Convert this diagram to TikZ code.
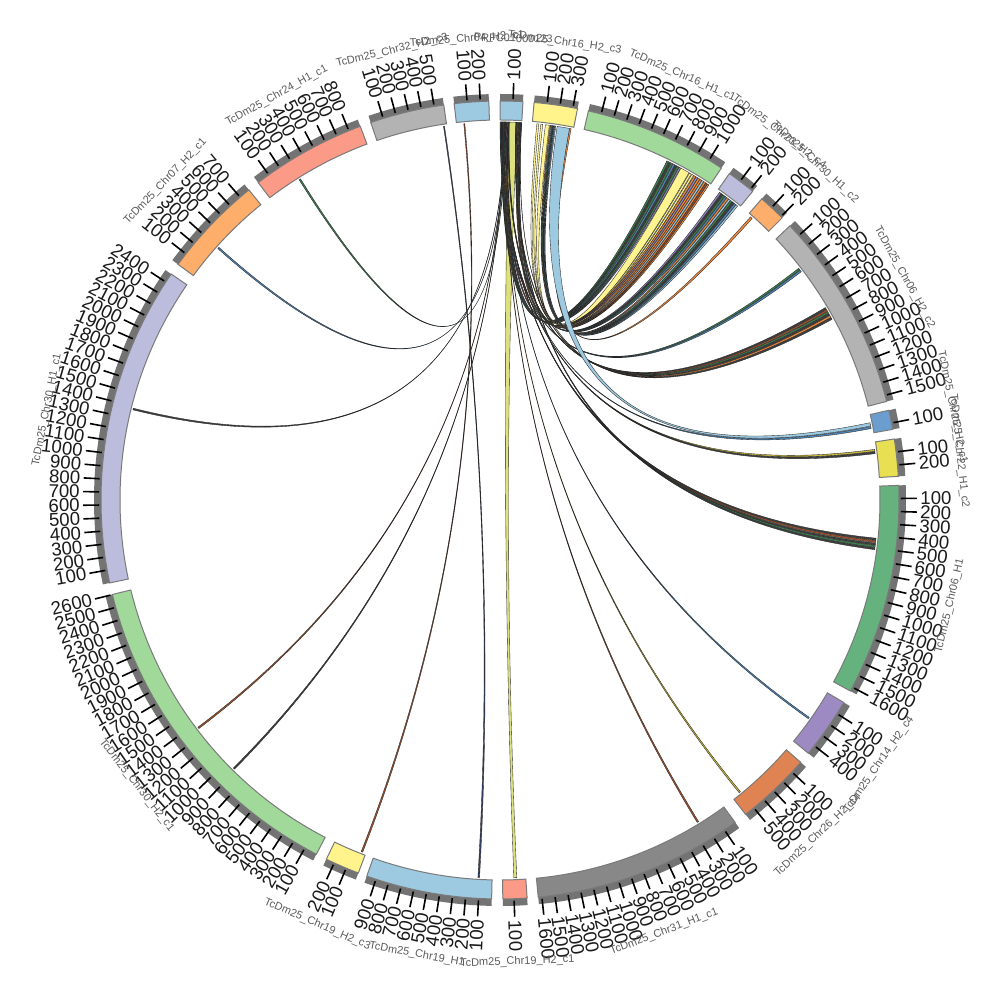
\documentclass[tikz,border=0pt]{standalone}
\usepackage{fontspec}
\setmainfont{Liberation Sans}
\definecolor{cA}{HTML}{9ECAE1}
\definecolor{cB}{HTML}{FFF38C}
\definecolor{cC}{HTML}{A1D99B}
\definecolor{cD}{HTML}{BCBDDC}
\definecolor{cE}{HTML}{FDAE6B}
\definecolor{cF}{HTML}{B3B3B3}
\definecolor{cG}{HTML}{6B9ECE}
\definecolor{cH}{HTML}{E9DF52}
\definecolor{cI}{HTML}{66B27E}
\definecolor{cJ}{HTML}{9D8AC3}
\definecolor{cK}{HTML}{E08352}
\definecolor{cL}{HTML}{888888}
\definecolor{cM}{HTML}{FB9A86}
\definecolor{ringgray}{HTML}{737373}
\definecolor{bandedge}{HTML}{7A7A7A}
\definecolor{numcol}{HTML}{1A1A1A}
\definecolor{namecol}{HTML}{5A5A5A}
\definecolor{lkG}{HTML}{3D7F4F}
\definecolor{lkK}{HTML}{404040}
\definecolor{lkS}{HTML}{4F86B8}
\definecolor{lkP}{HTML}{8E86BF}
\definecolor{lkO}{HTML}{F08A3C}
\definecolor{lkB}{HTML}{9ECAE1}
\definecolor{lkR}{HTML}{A0522D}
\definecolor{lkY}{HTML}{FFF48F}
\definecolor{lkE}{HTML}{C8B83C}
\definecolor{lkW}{HTML}{DDE07E}
\definecolor{lkN}{HTML}{34426A}
% ribbon link: source interval #1-#2, target interval #3-#4 (compass degrees), fill #5
\newcommand\rib[5]{%
  \filldraw[ribst, fill=#5] (90-#1:378) .. controls (90-#1:126) and (90-#4:126) .. (90-#4:378)
    arc[start angle=90-#4, end angle=90-#3, radius=378]
    .. controls (90-#3:126) and (90-#2:126) .. (90-#2:378)
    arc[start angle=90-#2, end angle=90-#1, radius=378] -- cycle;}
\begin{document}
\begin{tikzpicture}[x=0.5pt,y=0.5pt,
  band/.style={draw=bandedge, line width=0.5pt},
  tickst/.style={draw=black, line width=0.8pt},
  numlbl/.style={font=\fontsize{9.3}{9.3}\selectfont, text=numcol, inner sep=0pt},
  namelbl/.style={font=\fontsize{5.5}{5.5}\selectfont, text=namecol, inner sep=0pt},
  ribst/.style={draw=black!85, line width=0.18pt}]
\useasboundingbox (-500,-500) rectangle (500,500);
% ---------------- links ----------------
\rib{1.3}{2.6}{177.45}{177.9}{lkW}
% to Chr16_H1_c1
\rib{0.10}{0.22}{26.2}{26.5}{lkG}
\rib{0.22}{0.34}{26.55}{26.85}{lkK}
\rib{0.34}{0.46}{26.9}{27.2}{lkG}
\rib{0.46}{0.58}{27.25}{27.55}{lkS}
\rib{0.58}{0.70}{27.6}{27.9}{lkK}
\rib{0.70}{0.82}{27.95}{28.25}{lkG}
\rib{0.82}{0.94}{28.3}{28.55}{lkP}
\rib{6.9}{7.5}{28.6}{30.0}{lkY}
\rib{5.6}{5.9}{30.1}{30.4}{lkY}
\rib{6.2}{6.5}{30.5}{30.8}{lkY}
\rib{0.94}{1.04}{30.9}{31.2}{lkO}
\rib{1.04}{1.14}{31.25}{31.55}{lkP}
\rib{1.14}{1.24}{31.6}{31.9}{lkO}
\rib{2.62}{2.70}{31.95}{32.25}{lkO}
\rib{2.70}{2.78}{32.3}{32.6}{lkB}
\rib{2.78}{2.86}{32.65}{32.95}{lkO}
\rib{2.86}{2.94}{33.0}{33.25}{lkR}
\rib{2.94}{3.02}{33.3}{33.55}{lkO}
% to lavender
\rib{3.02}{3.08}{35.5}{35.8}{lkP}
\rib{3.08}{3.14}{35.85}{36.15}{lkK}
\rib{3.14}{3.20}{36.2}{36.5}{lkG}
\rib{3.20}{3.26}{36.55}{36.85}{lkS}
\rib{7.6}{7.75}{36.9}{37.2}{lkO}
\rib{7.75}{7.9}{37.25}{37.55}{lkB}
\rib{7.9}{8.05}{37.6}{37.9}{lkG}
\rib{8.05}{8.2}{37.95}{38.25}{lkK}
\rib{8.2}{8.35}{38.3}{38.6}{lkS}
\rib{8.35}{8.5}{38.65}{38.95}{lkB}
% to orange box
\rib{10.6}{10.85}{41.5}{41.85}{lkO}
% to Chr06_H2_c2
\rib{0.05}{0.10}{52.2}{52.5}{lkG}
\rib{0.00}{0.05}{52.55}{52.85}{lkS}
\rib{1.24}{1.30}{59.4}{59.7}{lkK}
\rib{1.30}{1.36}{59.75}{60.05}{lkR}
\rib{1.36}{1.42}{60.1}{60.4}{lkG}
\rib{2.50}{2.56}{60.45}{60.75}{lkK}
\rib{2.56}{2.62}{60.8}{61.1}{lkO}
\rib{3.26}{3.30}{61.15}{61.45}{lkK}
% small boxes
\rib{8.7}{10.6}{78.2}{78.7}{lkB}
\rib{0.12}{0.17}{78.8}{79.1}{lkS}
\rib{0.15}{0.20}{82.3}{82.6}{lkE}
\rib{0.20}{0.25}{82.65}{82.95}{lkK}
% to Chr06_H1
\rib{0.30}{0.35}{95.8}{96.1}{lkK}
\rib{0.35}{0.40}{96.15}{96.45}{lkR}
\rib{0.40}{0.45}{96.55}{96.85}{lkK}
\rib{2.45}{2.50}{96.9}{97.2}{lkG}
\rib{2.40}{2.45}{97.25}{97.55}{lkK}
% single long links
\rib{0.50}{0.56}{125.1}{125.35}{lkS}
\rib{0.55}{0.61}{140.5}{140.75}{lkE}
\rib{0.60}{0.66}{148.3}{148.55}{lkR}
\rib{351.4}{351.55}{183.1}{183.35}{lkN}
\rib{354.5}{354.65}{201.3}{201.55}{lkR}
\rib{0.65}{0.71}{224.6}{224.85}{lkK}
\rib{0.70}{0.76}{232.8}{233.05}{lkR}
\rib{0.75}{0.81}{283.8}{284.05}{lkK}
\rib{0.80}{0.86}{311.7}{311.95}{lkS}
\rib{0.85}{0.91}{327.9}{328.15}{lkG}
% ---------------- segments ----------------
\foreach \sa/\sb/\sc/\sn/\snm in {
  0.0/3.3/cA/1/PRFC01000123,
  4.9/11.2/cB/3/TcDm25\_Chr16\_H2\_c3,
  12.8/33.7/cC/10/TcDm25\_Chr16\_H1\_c1,
  35.1/39.3/cD/2/TcDm25\_Chr23\_H2\_c4,
  41.0/45.0/cE/2/TcDm25\_Chr30\_H1\_c2,
  46.6/75.7/cF/15/TcDm25\_Chr06\_H2\_c2,
  77.0/79.8/cG/1/TcDm25\_Chr25\_H2\_c1,
  81.2/86.6/cH/2/TcDm25\_Chr22\_H1\_c2,
  87.9/118.6/cI/16/TcDm25\_Chr06\_H1,
  120.5/129.4/cJ/4/TcDm25\_Chr14\_H2\_c4,
  131.1/142.0/cK/5/TcDm25\_Chr26\_H2\_c4,
  143.9/174.5/cL/16/TcDm25\_Chr31\_H1\_c1,
  176.1/179.6/cM/1/TcDm25\_Chr19\_H2\_c1,
  181.2/199.5/cA/9/TcDm25\_Chr19\_H1,
  200.8/205.8/cB/2/TcDm25\_Chr19\_H2\_c3,
  207.4/256.3/cC/26/TcDm25\_Chr30\_H2\_c1,
  258.0/304.5/cD/24/TcDm25\_Chr30\_H1\_c1,
  306.2/321.0/cE/7/TcDm25\_Chr07\_H2\_c1,
  322.7/339.5/cM/8/TcDm25\_Chr24\_H1\_c1,
  341.1/351.9/cF/5/TcDm25\_Chr32\_H2\_c3,
  353.4/358.4/cA/2/TcDm25\_Chr04\_H2\_c1}{
  \fill[ringgray] (90-\sa:398) arc[start angle=90-\sa, end angle=90-\sb, radius=398]
    -- (90-\sb:406) arc[start angle=90-\sb, end angle=90-\sa, radius=406] -- cycle;
  \filldraw[band, fill=\sc] (90-\sa:380) arc[start angle=90-\sa, end angle=90-\sb, radius=380]
    -- (90-\sb:399) arc[start angle=90-\sb, end angle=90-\sa, radius=399] -- cycle;
  \foreach \k in {1,...,\sn}{
    \pgfmathsetmacro\tk{\sa+\k*1.8797}
    \draw[tickst] (90-\tk:401) -- (90-\tk:417);
    \ifdim\tk pt<180pt
      \node[numlbl, anchor=west, rotate=90-\tk] at (90-\tk:420) {\k00};
    \else
      \node[numlbl, anchor=east, rotate=270-\tk] at (90-\tk:420) {\k00};
    \fi
  }
  \pgfmathsetmacro\sm{(\sa+\sb)/2}
  \ifdim\sm pt<90pt
    \node[namelbl, rotate=-\sm] at (90-\sm:462) {\snm};
  \else\ifdim\sm pt>270pt
    \node[namelbl, rotate=-\sm] at (90-\sm:462) {\snm};
  \else
    \node[namelbl, rotate=180-\sm] at (90-\sm:462) {\snm};
  \fi\fi
}
\end{tikzpicture}
\end{document}
